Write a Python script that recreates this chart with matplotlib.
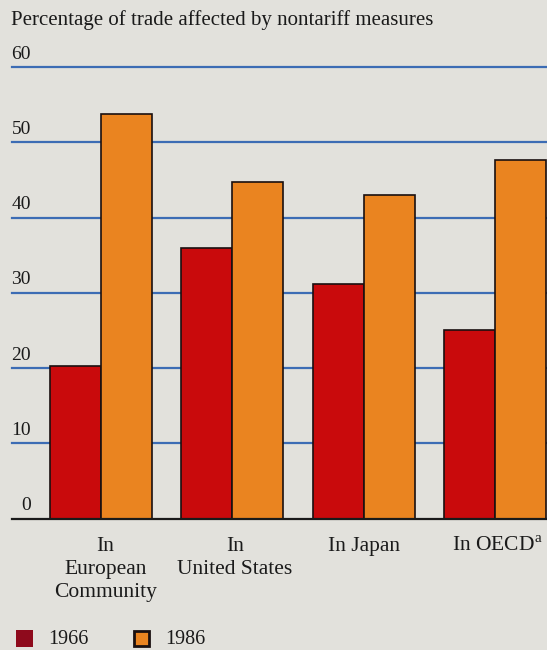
import matplotlib
matplotlib.use("Agg")
import matplotlib.pyplot as plt
import matplotlib.transforms as mtransforms
import numpy as np

categories = ["In\nEuropean\nCommunity", "In\nUnited States", "In Japan", "In OECD$^{\\mathrm{a}}$"]
values_1966 = [20.2, 35.9, 31.1, 25.0]
values_1986 = [53.7, 44.7, 43.0, 47.7]
yticks = [0, 10, 20, 30, 40, 50, 60]
title = "Percentage of trade affected by nontariff measures"

BG = "#e2e1dc"
RED = "#c90a0c"
RED_LEG = "#8e0a1c"
ORANGE = "#ea8420"
BLUE = "#3c6cb4"

plt.rcParams['font.family'] = ['Liberation Serif', 'DejaVu Serif']
plt.rcParams['mathtext.fontset'] = 'custom'
plt.rcParams['mathtext.rm'] = 'Liberation Serif'

fig = plt.figure(figsize=(5.47, 6.5), dpi=100, facecolor=BG)
ax = fig.add_axes([12/547, 1 - 518.5/650, 535/547, (518.5 - 67)/650])
ax.set_facecolor(BG)

x = np.arange(len(categories))
w = 0.388
ax.set_xlim(-0.678, 3.396)
ax.set_ylim(0, 60)

for t in yticks[1:]:
    ax.axhline(t, color=BLUE, lw=1.6, zorder=1, clip_on=False)
ax.axhline(0, color="#1a1a1a", lw=1.6, zorder=4, clip_on=False)

ax.bar(x - w/2, values_1966, width=w, color=RED, edgecolor="#1a1010", lw=1.2, zorder=3)
ax.bar(x + w/2, values_1986, width=w, color=ORANGE, edgecolor="#1a1010", lw=1.2, zorder=3)

trans = mtransforms.blended_transform_factory(fig.transFigure, ax.transData)
for t in yticks:
    ax.text(31/547, t + 1.7, str(t), transform=trans, ha="right", va="center",
            fontsize=14, color="#1a1a1a")

for spine in ax.spines.values():
    spine.set_visible(False)
ax.set_xticks([])
ax.set_yticks([])

label_x = [105.5, 235, 364.5, 497]
for lx, lab in zip(label_x, categories):
    fig.text(lx/547, 1 - 537/650, lab, ha="center", va="top", fontsize=15.5,
             color="#1a1a1a", linespacing=1.28)

fig.text(11/547, 1 - 20/650, title, ha="left", va="center", fontsize=15, color="#1a1a1a")

# legend
fig.patches.append(plt.Rectangle((16/547, 1 - 647/650), 17/547, 17/650, transform=fig.transFigure,
                                 facecolor=RED_LEG, edgecolor="none"))
fig.text(48/547, 1 - 639.5/650, "1966", ha="left", va="center", fontsize=14.5, color="#1a1a1a")
fig.patches.append(plt.Rectangle((134/547, 1 - 646/650), 15/547, 15/650, transform=fig.transFigure,
                                 facecolor=ORANGE, edgecolor="#1a1010", lw=2))
fig.text(165/547, 1 - 639.5/650, "1986", ha="left", va="center", fontsize=14.5, color="#1a1a1a")

fig.savefig("out.png", dpi=100, facecolor=BG)
